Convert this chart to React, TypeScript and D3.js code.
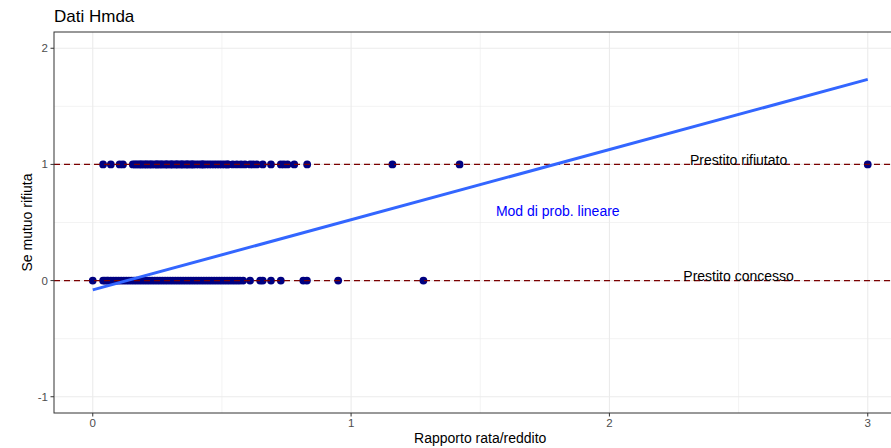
import React from "react";
import * as d3 from "d3";

// rapporto rata/reddito per le domande rifiutate (deny = 1)
const deniedX = [
  0.04, 0.07, 0.104, 0.117, 0.155, 0.163, 0.17, 0.178, 0.185, 0.19, 0.198,
  0.205, 0.21, 0.218, 0.225, 0.23, 0.24, 0.247, 0.25, 0.258, 0.265, 0.27,
  0.28, 0.285, 0.29, 0.3, 0.305, 0.31, 0.32, 0.325, 0.33, 0.34, 0.345, 0.35,
  0.36, 0.365, 0.37, 0.38, 0.385, 0.39, 0.4, 0.41, 0.42, 0.425, 0.43, 0.44,
  0.45, 0.46, 0.47, 0.48, 0.49, 0.5, 0.51, 0.52, 0.524, 0.542, 0.558, 0.574,
  0.589, 0.609, 0.621, 0.635, 0.658, 0.69, 0.728, 0.74, 0.754, 0.78, 0.83,
  1.16, 1.42, 3.0,
];

// rapporto rata/reddito per le domande accettate (deny = 0)
const acceptedX = [
  0, 0.04, 0.047, 0.055, 0.06, 0.07, 0.08, 0.09, 0.1, 0.11, 0.12, 0.13, 0.14,
  0.15, 0.16, 0.17, 0.18, 0.19, 0.2, 0.21, 0.22, 0.23, 0.24, 0.25, 0.26, 0.27,
  0.28, 0.29, 0.3, 0.31, 0.32, 0.33, 0.34, 0.35, 0.36, 0.37, 0.38, 0.39, 0.4,
  0.41, 0.42, 0.43, 0.44, 0.45, 0.46, 0.47, 0.48, 0.49, 0.5, 0.51, 0.52, 0.53,
  0.54, 0.55, 0.56, 0.57, 0.582, 0.609, 0.648, 0.658, 0.69, 0.728, 0.815,
  0.829, 0.95, 1.28,
];

// modello di probabilita lineare: deny = a + b * pirat
const fitIntercept = -0.08;
const fitSlope = 0.604;
const fitRange = [0, 3];

const xTicks = [0, 1, 2, 3];
const xMinor = [0.5, 1.5, 2.5];
const yTicks = [-1, 0, 1, 2];
const yMinor = [-0.5, 0.5, 1.5];

const notes = [
  { x: 2.5, y: 1.04, label: "Prestito rifiutato", color: "#000000" },
  { x: 2.5, y: 0.04, label: "Prestito concesso", color: "#000000" },
  { x: 1.8, y: 0.6, label: "Mod di prob. lineare", color: "#0000FF" },
];

const W = 891;
const H = 448;
const font = "'Liberation Sans', Arial, Helvetica, sans-serif";

export default function App() {
  const left = 54;
  const top = 32;
  const bottom = 413;
  const right = 906.5;

  const x = d3.scaleLinear().domain([-0.15, 3.15]).range([left, right]);
  const y = d3.scaleLinear().domain([-1.14, 2.14]).range([bottom, top]);

  const fitLine = d3
    .line<number>()
    .x((d) => x(d))
    .y((d) => y(fitIntercept + fitSlope * d));

  return (
    <svg
      width={W}
      height={H}
      style={{ position: "absolute", left: 0, top: 0, background: "#fff" }}
      fontFamily={font}
    >
      <rect x={0} y={0} width={W} height={H} fill="#fff" />
      <text x={left} y={22} fontSize={17} fill="#000">
        Dati Hmda
      </text>

      {/* griglia */}
      {xMinor.map((v) => (
        <line key={"xm" + v} x1={x(v)} x2={x(v)} y1={top} y2={bottom} stroke="#EBEBEB" strokeWidth={0.6} />
      ))}
      {yMinor.map((v) => (
        <line key={"ym" + v} x1={left} x2={right} y1={y(v)} y2={y(v)} stroke="#EBEBEB" strokeWidth={0.6} />
      ))}
      {xTicks.map((v) => (
        <line key={"xg" + v} x1={x(v)} x2={x(v)} y1={top} y2={bottom} stroke="#EBEBEB" strokeWidth={1.1} />
      ))}
      {yTicks.map((v) => (
        <line key={"yg" + v} x1={left} x2={right} y1={y(v)} y2={y(v)} stroke="#EBEBEB" strokeWidth={1.1} />
      ))}

      {/* punti */}
      {deniedX.map((v, i) => (
        <circle key={"d" + i} cx={x(v)} cy={y(1)} r={3.9} fill="#000080" />
      ))}
      {acceptedX.map((v, i) => (
        <circle key={"a" + i} cx={x(v)} cy={y(0)} r={3.9} fill="#000080" />
      ))}

      {[0, 1].map((v) => (
        <line
          key={"h" + v}
          x1={left}
          x2={right}
          y1={y(v)}
          y2={y(v)}
          stroke="#7A0000"
          strokeWidth={1.1}
          strokeDasharray="6,4"
        />
      ))}

      <path d={fitLine(fitRange) || ""} fill="none" stroke="#3366FF" strokeWidth={3} />

      {notes.map((n) => (
        <text
          key={n.label}
          x={x(n.x)}
          y={y(n.y)}
          textAnchor="middle"
          dominantBaseline="central"
          fontSize={14}
          fill={n.color}
        >
          {n.label}
        </text>
      ))}

      {/* bordo pannello */}
      <rect x={left} y={top} width={right - left} height={bottom - top} fill="none" stroke="#333333" strokeWidth={1} />

      {/* assi */}
      {xTicks.map((v) => (
        <g key={"xt" + v}>
          <line x1={x(v)} x2={x(v)} y1={bottom} y2={bottom + 3.5} stroke="#333333" strokeWidth={1} />
          <text x={x(v)} y={bottom + 14} textAnchor="middle" fontSize={11.5} fill="#4D4D4D">
            {v}
          </text>
        </g>
      ))}
      {yTicks.map((v) => (
        <g key={"yt" + v}>
          <line x1={left - 3.5} x2={left} y1={y(v)} y2={y(v)} stroke="#333333" strokeWidth={1} />
          <text x={left - 6} y={y(v)} textAnchor="end" dominantBaseline="central" fontSize={11.5} fill="#4D4D4D">
            {v}
          </text>
        </g>
      ))}

      <text x={(left + right) / 2} y={443} textAnchor="middle" fontSize={14} fill="#000">
        Rapporto rata/reddito
      </text>
      <text
        transform={`translate(32,${(top + bottom) / 2}) rotate(-90)`}
        textAnchor="middle"
        fontSize={14}
        fill="#000"
      >
        Se mutuo rifiuta
      </text>
    </svg>
  );
}
